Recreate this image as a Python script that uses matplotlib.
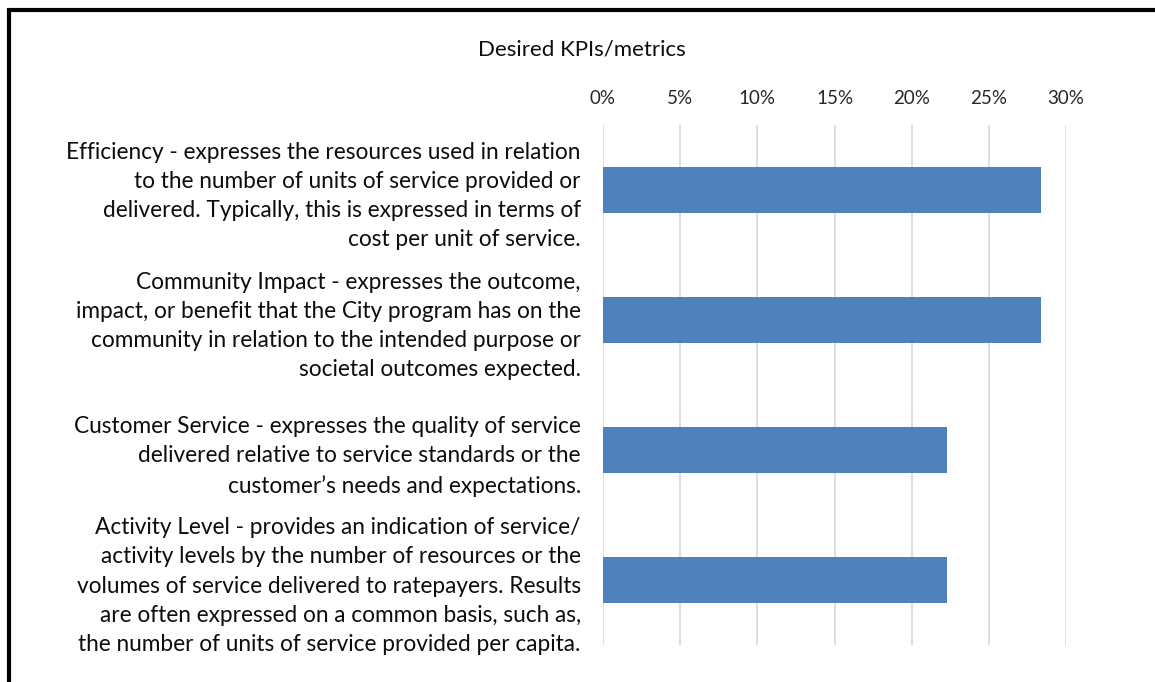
import matplotlib
matplotlib.use("Agg")
import matplotlib.pyplot as plt
from matplotlib.patches import Rectangle

categories = [
    "Efficiency - expresses the resources used in relation\nto the number of units of service provided or\ndelivered. Typically, this is expressed in terms of\ncost per unit of service.",
    "Community Impact - expresses the outcome,\nimpact, or benefit that the City program has on the\ncommunity in relation to the intended purpose or\nsocietal outcomes expected.",
    "Customer Service - expresses the quality of service\ndelivered relative to service standards or the\ncustomer\u2019s needs and expectations.",
    "Activity Level - provides an indication of service/\nactivity levels by the number of resources or the\nvolumes of service delivered to ratepayers. Results\nare often expressed on a common basis, such as,\nthe number of units of service provided per capita.",
]
values = [28.4, 28.4, 22.3, 22.3]
ticks = [0, 5, 10, 15, 20, 25, 30]
tick_labels = ["0%", "5%", "10%", "15%", "20%", "25%", "30%"]
title = "Desired KPIs/metrics"

plt.rcParams['font.family'] = ['Lato', 'DejaVu Sans']

W, H = 1155, 682
fig = plt.figure(figsize=(W/100, H/100), dpi=100)
ax = fig.add_axes([603/W, 1-645/H, (1066-603)/W, (645-125)/H])

y = list(range(len(categories)))
ax.barh(y, values, height=0.35, color="#4f81bd", zorder=3)
ax.set_ylim(len(categories)-0.5, -0.5)
ax.set_xlim(0, 30)
ax.set_xticks(ticks)
ax.set_xticklabels(tick_labels, fontsize=13.5)
ax.xaxis.tick_top()
ax.tick_params(axis='x', length=0, pad=13, colors="#262626")
ax.tick_params(axis='y', length=0, pad=16)
ax.set_yticks(y)
ax.set_yticklabels(categories, fontsize=16.3, linespacing=1.48, color="#0d0d0d")
for lab in ax.get_yticklabels():
    lab.set_horizontalalignment('right')
ax.grid(axis='x', color="#d9d9d9", linewidth=1.2, zorder=0)
for s in ax.spines.values():
    s.set_visible(False)

fig.text(582/W, 1-50/H, title, ha='center', va='center', fontsize=16, color="#0d0d0d")

fig.patches.append(Rectangle((9/W, -0.1), 1.2, 1-10/H+0.1, transform=fig.transFigure,
                             fill=False, edgecolor='black', linewidth=3))

fig.savefig("out.png", dpi=100)
